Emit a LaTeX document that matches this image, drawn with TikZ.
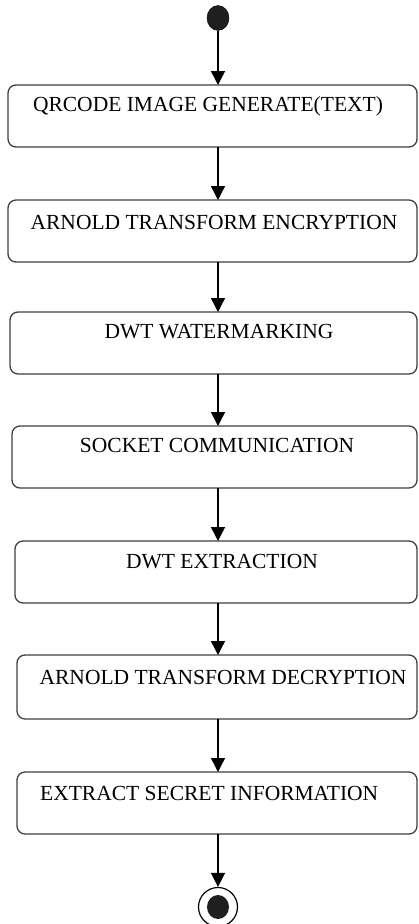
\documentclass[tikz,border=0pt]{standalone}
\usepackage{fontspec}
\setmainfont{Liberation Serif}
\usetikzlibrary{arrows.meta,shapes.geometric}
\definecolor{boxline}{HTML}{404040}
\tikzset{
  x=1pt, y=-1pt,
  stepbox/.style={draw=boxline, line width=1.3pt, rounded corners=8pt, fill=white},
  steptext/.style={inner sep=0pt, font=\fontsize{21.5}{23}\selectfont, text=black},
  flow/.style={draw=black, line width=1.4pt, -{Triangle[length=14pt,width=14pt]}},
  startdot/.style={ellipse, fill=black!88, draw=black, minimum width=22pt, minimum height=25pt, inner sep=0pt},
}
\begin{document}
\begin{tikzpicture}
\useasboundingbox (0,0) rectangle (418,924);
% start
\node[startdot] (start) at (218,18) {};
% boxes
\path[stepbox] (8,85) rectangle (417,147);
\coordinate (b1n) at (218,85); \coordinate (b1s) at (218,147);
\node[steptext] (t1) at (208,106) {QRCODE IMAGE GENERATE(TEXT)};
\path[stepbox] (8,200) rectangle (417,262);
\coordinate (b2n) at (218,200); \coordinate (b2s) at (218,262);
\node[steptext] (t2) at (214,222) {ARNOLD TRANSFORM ENCRYPTION};
\path[stepbox] (10,312) rectangle (417,374);
\coordinate (b3n) at (218,312); \coordinate (b3s) at (218,374);
\node[steptext] (t3) at (219,332) {DWT WATERMARKING};
\path[stepbox] (12,426) rectangle (417,488);
\coordinate (b4n) at (218,426); \coordinate (b4s) at (218,488);
\node[steptext] (t4) at (217,445) {SOCKET COMMUNICATION};
\path[stepbox] (15,541) rectangle (417,603);
\coordinate (b5n) at (218,541); \coordinate (b5s) at (218,603);
\node[steptext] (t5) at (222,562) {DWT EXTRACTION};
\path[stepbox] (17,655) rectangle (417,719);
\coordinate (b6n) at (218,655); \coordinate (b6s) at (218,719);
\node[steptext] (t6) at (223,677) {ARNOLD TRANSFORM DECRYPTION};
\path[stepbox] (17,772) rectangle (417,834);
\coordinate (b7n) at (218,772); \coordinate (b7s) at (218,834);
\node[steptext, anchor=west] (t7) at (40,793) {EXTRACT SECRET INFORMATION};
% end
\node[circle, draw=black, line width=1.2pt, fill=white, minimum size=39pt, inner sep=0pt] (endo) at (218,907) {};
\node[ellipse, fill=black!88, minimum width=22pt, minimum height=24pt, inner sep=0pt] (endi) at (218,907) {};
% arrows
\draw[flow] (start.south) -- (b1n);
\draw[flow] (b1s) -- (b2n);
\draw[flow] (b2s) -- (b3n);
\draw[flow] (b3s) -- (b4n);
\draw[flow] (b4s) -- (b5n);
\draw[flow] (b5s) -- (b6n);
\draw[flow] (b6s) -- (b7n);
\draw[flow] (b7s) -- (endo.north);
\end{tikzpicture}
\end{document}
